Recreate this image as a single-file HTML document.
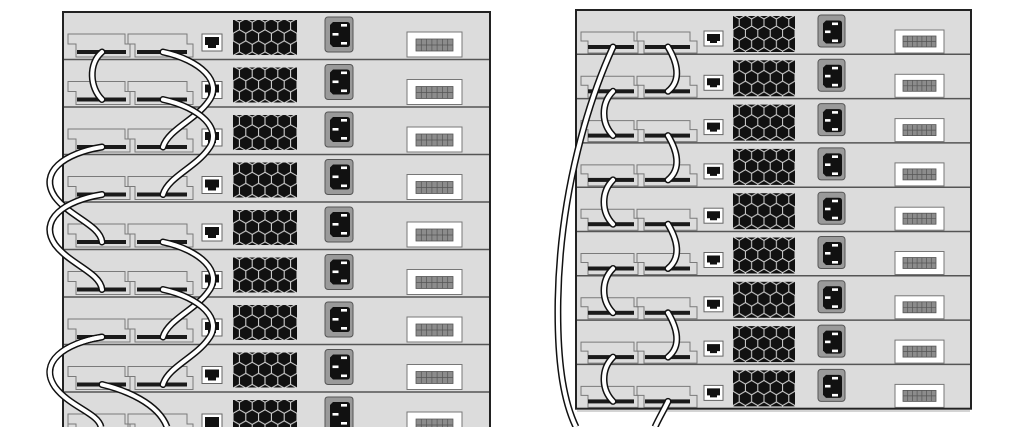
<!DOCTYPE html>
<html>
<head>
<meta charset="utf-8">
<style>
html,body{margin:0;padding:0;background:#fff;width:1027px;height:427px;overflow:hidden;}
svg{display:block;overflow:hidden;}
.c1{fill:none;stroke:#111;stroke-width:7;stroke-linecap:round;}
.c2{fill:none;stroke:#fff;stroke-width:4;stroke-linecap:round;}
.c1b{fill:none;stroke:#111;stroke-width:7;stroke-linecap:butt;}
.c2b{fill:none;stroke:#fff;stroke-width:4;stroke-linecap:butt;}
.po{fill:none;stroke:#7a7a7a;stroke-width:1;}
</style>
</head>
<body>
<svg width="1027" height="427" viewBox="0 0 1027 427" xmlns="http://www.w3.org/2000/svg">
<defs>
  <pattern id="hexL" patternUnits="userSpaceOnUse" width="12.8" height="22.17" patternTransform="translate(233,14)">
    <rect x="0" y="0" width="12.8" height="22.17" fill="#dcdcdc"/>
    <polygon fill="#111" points="0,-6.8 5.89,-3.4 5.89,3.4 0,6.8 -5.89,3.4 -5.89,-3.4"/>
    <polygon fill="#111" points="12.8,-6.8 18.69,-3.4 18.69,3.4 12.8,6.8 6.91,3.4 6.91,-3.4"/>
    <polygon fill="#111" points="6.4,4.285 12.29,7.685 12.29,14.485 6.4,17.885 0.51,14.485 0.51,7.685"/>
    <polygon fill="#111" points="0,15.37 5.89,18.77 5.89,25.57 0,28.97 -5.89,25.57 -5.89,18.77"/>
    <polygon fill="#111" points="12.8,15.37 18.69,18.77 18.69,25.57 12.8,28.97 6.91,25.57 6.91,18.77"/>
  </pattern>
  <pattern id="hexR" patternUnits="userSpaceOnUse" width="12.4" height="21.48" patternTransform="translate(733,12.5)">
    <rect x="0" y="0" width="12.4" height="21.48" fill="#dcdcdc"/>
    <polygon fill="#111" points="0,-6.6 5.72,-3.3 5.72,3.3 0,6.6 -5.72,3.3 -5.72,-3.3"/>
    <polygon fill="#111" points="12.4,-6.6 18.12,-3.3 18.12,3.3 12.4,6.6 6.68,3.3 6.68,-3.3"/>
    <polygon fill="#111" points="6.2,4.14 11.92,7.44 11.92,14.04 6.2,17.34 0.48,14.04 0.48,7.44"/>
    <polygon fill="#111" points="0,14.88 5.72,18.18 5.72,24.78 0,28.08 -5.72,24.78 -5.72,18.18"/>
    <polygon fill="#111" points="12.4,14.88 18.12,18.18 18.12,24.78 12.4,28.08 6.68,24.78 6.68,18.18"/>
  </pattern>

  <g id="uL">
    <rect x="63" y="0" width="427" height="47.5" fill="#dcdcdc"/>
    <line x1="63" y1="0" x2="490" y2="0" stroke="#555" stroke-width="1.5"/>
    <path class="po" d="M68,22H125V32H130V45H76V32H68Z"/>
    <rect x="77" y="38" width="49" height="4" fill="#1a1a1a"/>
    <path class="po" d="M128,22H187V32H193V45H135V32H128Z"/>
    <rect x="137" y="38" width="50" height="4" fill="#1a1a1a"/>
    <rect x="202" y="22" width="20" height="17" fill="#fff" stroke="#666" stroke-width="1"/>
    <path d="M205,25H219V33H216V36H208V33H205Z" fill="#111"/>
    <rect x="233" y="8" width="64" height="35" fill="url(#hexL)"/>
    <rect x="325" y="5" width="28" height="35" rx="3" fill="#9a9a9a" stroke="#555" stroke-width="1"/>
    <path d="M333,10H347Q350,10 350,13V32Q350,35 347,35H333L330,32V13Z" fill="#111"/>
    <rect x="341" y="12" width="6" height="2.6" fill="#fff"/>
    <rect x="341" y="30" width="6" height="2.6" fill="#fff"/>
    <rect x="332.5" y="21" width="6" height="2.6" fill="#fff"/>
    <rect x="407" y="20" width="55" height="25" fill="#fff" stroke="#777" stroke-width="1"/>
    <rect x="416" y="27" width="37" height="12" fill="#8c8c8c" stroke="#555" stroke-width="0.8"/>
    <path d="M421.3,27V39M426.6,27V39M431.9,27V39M437.1,27V39M442.4,27V39M447.7,27V39M416,33H453" stroke="#555" stroke-width="0.7" fill="none"/>
  </g>

  <g id="uL9">
    <rect x="63" y="0" width="427" height="35" fill="#dcdcdc"/>
    <line x1="63" y1="0" x2="490" y2="0" stroke="#555" stroke-width="1.5"/>
    <path class="po" d="M68,35V22H125V32H130V35"/>
    <path class="po" d="M76,35V32H68"/>
    <path class="po" d="M128,35V22H187V32H193V35"/>
    <path class="po" d="M135,35V32H128"/>
    <rect x="202" y="22" width="20" height="13" fill="#fff"/>
    <path d="M202,35V22H222V35" fill="none" stroke="#666" stroke-width="1"/>
    <rect x="205" y="25" width="14" height="10" fill="#111"/>
    <rect x="233" y="8" width="64" height="27" fill="url(#hexL)"/>
    <path d="M325,35V8Q325,5 328,5H350Q353,5 353,8V35Z" fill="#9a9a9a"/>
    <path d="M325,35V8Q325,5 328,5H350Q353,5 353,8V35" fill="none" stroke="#555" stroke-width="1"/>
    <path d="M333,10H347Q350,10 350,13V35H330V13Z" fill="#111"/>
    <rect x="341" y="12" width="6" height="2.6" fill="#fff"/>
    <rect x="341" y="30" width="6" height="2.6" fill="#fff"/>
    <rect x="332.5" y="21" width="6" height="2.6" fill="#fff"/>
    <rect x="407" y="20" width="55" height="15" fill="#fff"/>
    <path d="M407,35V20H462V35" fill="none" stroke="#777" stroke-width="1"/>
    <rect x="416" y="27" width="37" height="8" fill="#8c8c8c"/>
    <path d="M416,35V27H453V35M421.3,27V35M426.6,27V35M431.9,27V35M437.1,27V35M442.4,27V35M447.7,27V35M416,33H453" stroke="#555" stroke-width="0.7" fill="none"/>
  </g>

  <g id="uR">
    <rect x="576" y="0" width="395" height="44.3" fill="#dcdcdc"/>
    <line x1="576" y1="0" x2="971" y2="0" stroke="#555" stroke-width="1.5"/>
    <path class="po" d="M581,22H634V31H638V43H588V31H581Z"/>
    <rect x="588" y="35" width="46" height="4" fill="#1a1a1a"/>
    <path class="po" d="M637,22H690V31H697V43H644V31H637Z"/>
    <rect x="645" y="35" width="45" height="4" fill="#1a1a1a"/>
    <rect x="704" y="21" width="19" height="15" fill="#fff" stroke="#666" stroke-width="1"/>
    <path d="M707,24H720V31H717V33H710V31H707Z" fill="#111"/>
    <rect x="733" y="6" width="62" height="36" fill="url(#hexR)"/>
    <rect x="818" y="5" width="27" height="32" rx="3" fill="#9a9a9a" stroke="#555" stroke-width="1"/>
    <path d="M826,10.5H839Q842,10.5 842,13.5V30.5Q842,33.5 839,33.5H826L823,30.5V13.5Z" fill="#111"/>
    <rect x="832" y="12.5" width="6" height="2.6" fill="#fff"/>
    <rect x="832" y="29.5" width="6" height="2.6" fill="#fff"/>
    <rect x="825" y="20.5" width="5.5" height="2.6" fill="#fff"/>
    <rect x="895" y="20" width="49" height="23" fill="#fff" stroke="#777" stroke-width="1"/>
    <rect x="903" y="26" width="33" height="11" fill="#8c8c8c" stroke="#555" stroke-width="0.8"/>
    <path d="M907.7,26V37M912.4,26V37M917.1,26V37M921.9,26V37M926.6,26V37M931.3,26V37M903,31.5H936" stroke="#555" stroke-width="0.7" fill="none"/>
  </g>
</defs>

<!-- LEFT STACK -->
<use href="#uL" x="0" y="12"/>
<use href="#uL" x="0" y="59.5"/>
<use href="#uL" x="0" y="107"/>
<use href="#uL" x="0" y="154.5"/>
<use href="#uL" x="0" y="202"/>
<use href="#uL" x="0" y="249.5"/>
<use href="#uL" x="0" y="297"/>
<use href="#uL" x="0" y="344.5"/>
<use href="#uL9" x="0" y="392"/>
<path d="M63,427V12H490V427" fill="none" stroke="#222" stroke-width="2"/>

<!-- RIGHT STACK -->
<use href="#uR" x="0" y="10"/>
<use href="#uR" x="0" y="54.3"/>
<use href="#uR" x="0" y="98.6"/>
<use href="#uR" x="0" y="142.9"/>
<use href="#uR" x="0" y="187.2"/>
<use href="#uR" x="0" y="231.5"/>
<use href="#uR" x="0" y="275.8"/>
<use href="#uR" x="0" y="320.1"/>
<use href="#uR" x="0" y="364.4"/>
<rect x="576" y="10" width="395" height="398.7" fill="none" stroke="#222" stroke-width="2"/>
<line x1="577" y1="411" x2="970" y2="411" stroke="#aaa" stroke-width="1"/>

<!-- LEFT CABLES -->
<path class="c1" d="M102,52 C88,64 90,88 102,99.5"/>
<path class="c2" d="M102,52 C88,64 90,88 102,99.5"/>

<path class="c1" d="M163,52 C200,60 224,82 208,102 C195,120 168,130 163,147"/>
<path class="c2" d="M163,52 C200,60 224,82 208,102 C195,120 168,130 163,147"/>
<path class="c1" d="M163,99.5 C200,107.5 224,129.5 208,149.5 C195,167.5 168,177.5 163,194.5"/>
<path class="c2" d="M163,99.5 C200,107.5 224,129.5 208,149.5 C195,167.5 168,177.5 163,194.5"/>

<path class="c1" d="M102,147 C65,153 38,172 55,197 C70,217 100,225 102,242"/>
<path class="c2" d="M102,147 C65,153 38,172 55,197 C70,217 100,225 102,242"/>
<path class="c1" d="M102,194.5 C65,200.5 38,219.5 55,244.5 C70,264.5 100,272.5 102,289.5"/>
<path class="c2" d="M102,194.5 C65,200.5 38,219.5 55,244.5 C70,264.5 100,272.5 102,289.5"/>

<path class="c1" d="M163,242 C200,250 224,272 208,292 C195,310 168,320 163,337"/>
<path class="c2" d="M163,242 C200,250 224,272 208,292 C195,310 168,320 163,337"/>
<path class="c1" d="M163,289.5 C200,297.5 224,319.5 208,339.5 C195,357.5 168,367.5 163,384.5"/>
<path class="c2" d="M163,289.5 C200,297.5 224,319.5 208,339.5 C195,357.5 168,367.5 163,384.5"/>

<path class="c1b" d="M102,337 C65,343 38,362 55,387 C70,407 98,413 101,427"/>
<path class="c2b" d="M102,337 C65,343 38,362 55,387 C70,407 98,413 101,427"/>
<circle cx="102" cy="337" r="3.5" fill="#111"/>
<path class="c2b" d="M102,337 C65,343 38,362 55,387"/>
<circle cx="102" cy="337" r="2" fill="#fff"/>
<path class="c1b" d="M102,384.5 C125,390 158,403 167,427"/>
<circle cx="102" cy="384.5" r="3.5" fill="#111"/>
<path class="c2b" d="M102,384.5 C125,390 158,403 167,427"/>
<circle cx="102" cy="384.5" r="2" fill="#fff"/>

<!-- RIGHT CABLES -->
<path class="c1b" d="M613,47 C590,97 560,190 558,300 C557,360 563,400 576,427"/>
<circle cx="613" cy="47" r="3.5" fill="#111"/>
<path class="c2b" d="M613,47 C590,97 560,190 558,300 C557,360 563,400 576,427"/>
<circle cx="613" cy="47" r="2" fill="#fff"/>

<path class="c1" d="M668,47 C677,62 682,80 668,91.3"/>
<path class="c2" d="M668,47 C677,62 682,80 668,91.3"/>
<path class="c1" d="M668,135.6 C677,150.6 682,168.6 668,179.9"/>
<path class="c2" d="M668,135.6 C677,150.6 682,168.6 668,179.9"/>
<path class="c1" d="M668,224.2 C677,239.2 682,257.2 668,268.5"/>
<path class="c2" d="M668,224.2 C677,239.2 682,257.2 668,268.5"/>
<path class="c1" d="M668,312.8 C677,327.8 682,345.8 668,357.1"/>
<path class="c2" d="M668,312.8 C677,327.8 682,345.8 668,357.1"/>

<path class="c1" d="M613,91.3 C601,103.3 601,123.3 613,135.6"/>
<path class="c2" d="M613,91.3 C601,103.3 601,123.3 613,135.6"/>
<path class="c1" d="M613,179.9 C601,191.9 601,211.9 613,224.2"/>
<path class="c2" d="M613,179.9 C601,191.9 601,211.9 613,224.2"/>
<path class="c1" d="M613,268.5 C601,280.5 601,300.5 613,312.8"/>
<path class="c2" d="M613,268.5 C601,280.5 601,300.5 613,312.8"/>
<path class="c1" d="M613,357.1 C601,369.1 601,389.1 613,401.4"/>
<path class="c2" d="M613,357.1 C601,369.1 601,389.1 613,401.4"/>

<path class="c1b" d="M655,427 C659,418 664,410 668,401.4"/>
<circle cx="668" cy="401.4" r="3.5" fill="#111"/>
<path class="c2b" d="M655,427 C659,418 664,410 668,401.4"/>
<circle cx="668" cy="401.4" r="2" fill="#fff"/>
</svg>
</body>
</html>
